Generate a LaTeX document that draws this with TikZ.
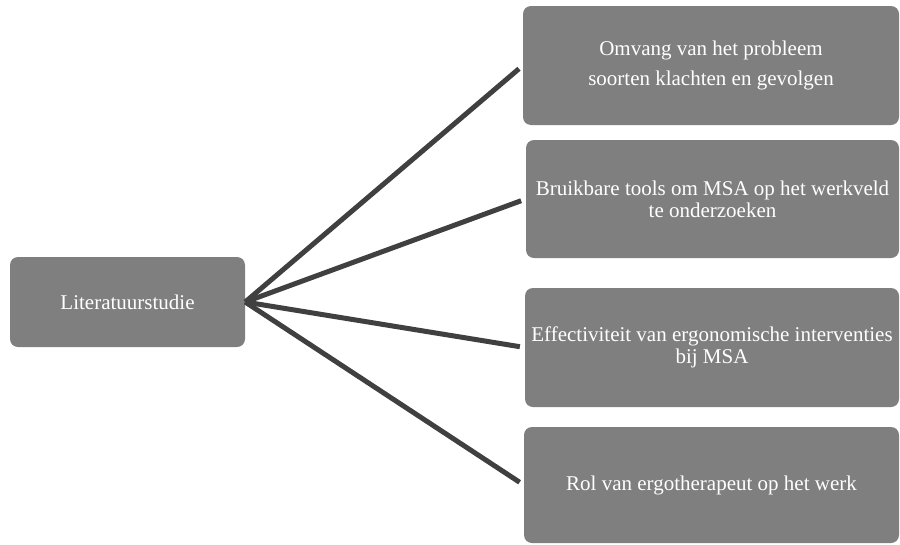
\documentclass[tikz,border=0pt]{standalone}
\usepackage{fontspec}
\setmainfont{Liberation Serif}
\definecolor{boxgray}{HTML}{7F7F7F}
\definecolor{linegray}{HTML}{404040}
\begin{document}
\begin{tikzpicture}[x=1pt,y=-1pt,
  box/.style={draw=none, fill=boxgray, rounded corners=8pt, text=white, align=center,
    inner sep=0pt, font=\fontsize{21}{22}\selectfont},
  link/.style={draw=linegray, line width=5pt, shorten >=5pt}]
\useasboundingbox (0,0) rectangle (900,544);
\node[box, minimum width=235pt, minimum height=90pt] (lit) at (127.5,302) {Literatuurstudie};
\node[box, minimum width=376pt, minimum height=119pt] (b1) at (711,65.5)
  {Omvang van het probleem\\[8pt]soorten klachten en gevolgen};
\node[box, minimum width=373pt, minimum height=118pt] (b2) at (712.5,199)
  {Bruikbare tools om MSA op het werkveld\\te onderzoeken};
\node[box, minimum width=374pt, minimum height=119pt] (b3) at (712,347.5)
  {Effectiviteit van ergonomische interventies\\bij MSA};
\node[box, minimum width=375pt, minimum height=116pt] (b4) at (711.5,485)
  {Rol van ergotherapeut op het werk};
\draw[link] (lit.east) -- (b1.west);
\draw[link] (lit.east) -- (b2.west);
\draw[link] (lit.east) -- (b3.west);
\draw[link] (lit.east) -- (b4.west);
\end{tikzpicture}
\end{document}
